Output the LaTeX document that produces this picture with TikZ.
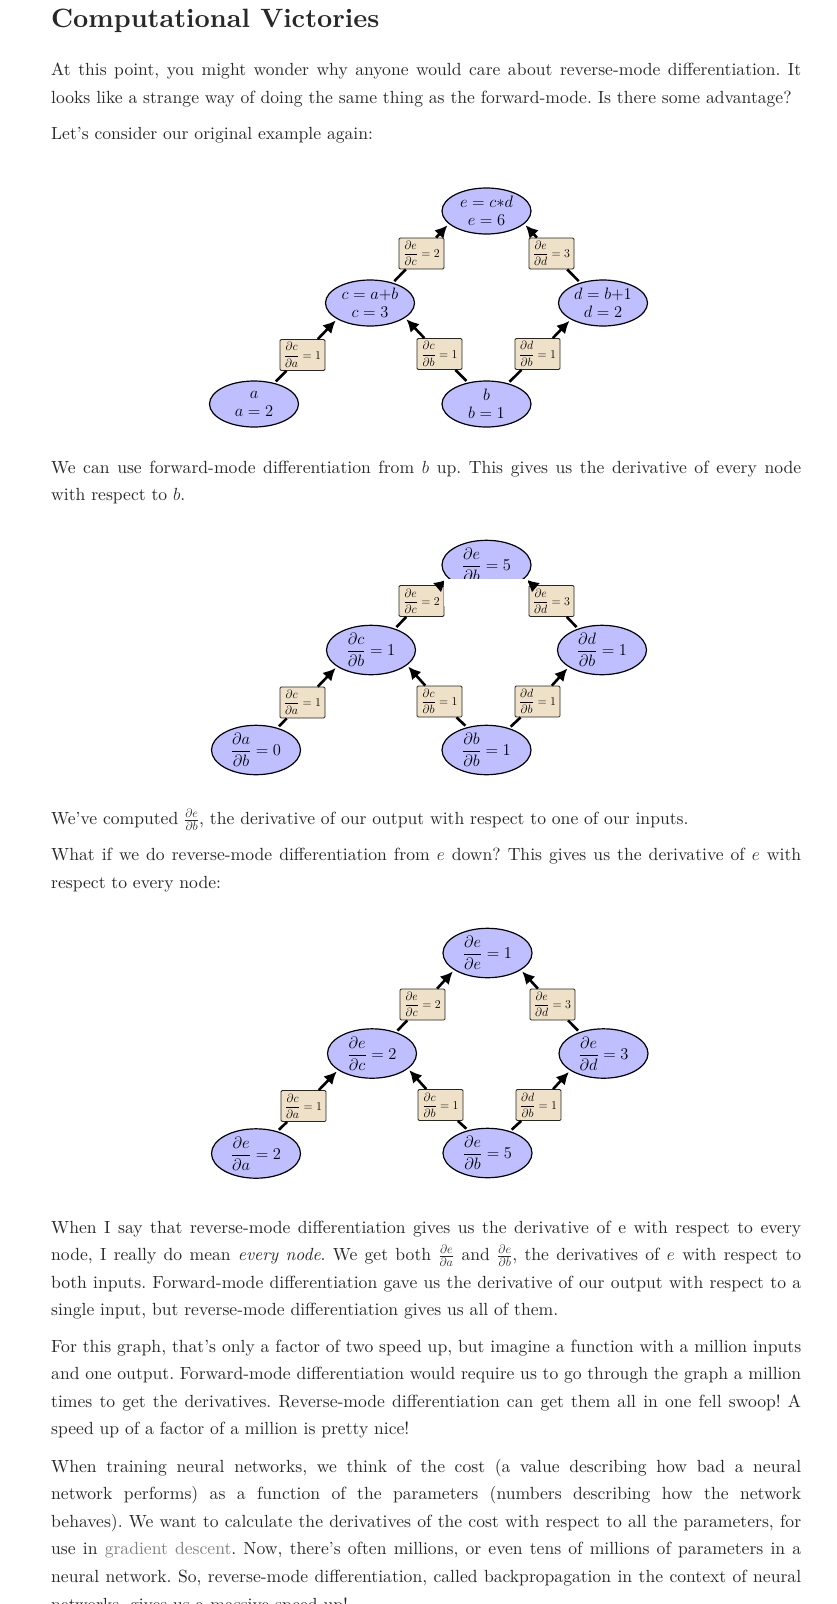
\documentclass[tikz,border=0pt]{standalone}
\usepackage{fix-cm}
\usepackage{amsmath}
\usepackage{fontspec}
\setmainfont{lmroman10}[Extension=.otf, UprightFont=*-regular, BoldFont=*-bold,
  ItalicFont=*-italic, BoldItalicFont=*-bolditalic]
\usetikzlibrary{shapes.geometric,arrows.meta}

\definecolor{varfill}{RGB}{191,191,255}
\definecolor{gradfill}{RGB}{239,224,200}
\definecolor{bodytext}{RGB}{40,40,40}
\definecolor{linkgray}{RGB}{128,128,128}

\newlength{\textw}\setlength{\textw}{750pt}
\newcommand{\jline}[1]{\leavevmode\hbox to \textw{\spaceskip=0.333em plus 1fil minus 0.1em\xspaceskip=0.333em plus 1fil minus 0.1em\relax #1}}
\newcommand{\pd}[2]{\dfrac{\partial #1}{\partial #2}}
\newcommand{\tpd}[2]{\frac{\partial #1}{\partial #2}}

\tikzset{
  var/.style={ellipse, draw=black, line width=1.2pt, fill=varfill, minimum width=89pt, minimum height=46pt,
    inner sep=0.5pt, outer sep=2.5pt, align=center, font=\fontsize{16.5}{18}\selectfont},
  grad/.style={rectangle, draw=black!85, line width=0.8pt, fill=gradfill, rounded corners=1.2pt,
    minimum width=45pt, minimum height=31pt, inner sep=1pt, font=\fontsize{12}{14}\selectfont},
  wire/.style={line width=2.6pt},
  flow/.style={wire, -{Latex[length=12.5pt,width=12.5pt]}},
  para/.style={anchor=base west, inner sep=0pt, text width=\textw, align=flush left, text=bodytext,
    font=\fontsize{17.6}{27.6}\selectfont\frenchspacing},
}

\begin{document}
\begin{tikzpicture}[x=1pt,y=-1pt]
\useasboundingbox (0,0) rectangle (836,1604);
\clip (0,0) rectangle (836,1604);
\fill[white] (0,0) rectangle (836,1604);

% text
\node[anchor=base west, inner sep=0pt, text=bodytext, font=\fontsize{26.5}{30}\selectfont\bfseries] (title) at (51,27.6) {Computational Victories};
\node[para] (p1) at (51,75.6) {\jline{At this point, you might wonder why anyone would care about reverse-mode differentiation. It}\\
looks like a strange way of doing the same thing as the forward-mode. Is there some advantage?};
\node[para] (p2) at (51,139) {Let’s consider our original example again:};
\node[para] (p3) at (51,473.3) {\jline{We can use forward-mode differentiation from $b$ up. This gives us the derivative of every node}\\
with respect to $b$.};
\node[para] (p4) at (51,824.6) {We’ve computed $\tpd{e}{b}$, the derivative of our output with respect to one of our inputs.};
\node[para] (p5) at (51,860.4) {\jline{What if we do reverse-mode differentiation from $e$ down? This gives us the derivative of $e$ with}\\
respect to every node:};
\node[para] (p6) at (51,1233) {\jline{When I say that reverse-mode differentiation gives us the derivative of e with respect to every}\\
\jline{node, I really do mean \emph{every node}. We get both $\tpd{e}{a}$ and $\tpd{e}{b}$, the derivatives of $e$ with respect to}\\
\jline{both inputs. Forward-mode differentiation gave us the derivative of our output with respect to a}\\
single input, but reverse-mode differentiation gives us all of them.};
\node[para] (p7) at (51,1352) {\jline{For this graph, that’s only a factor of two speed up, but imagine a function with a million inputs}\\
\jline{and one output. Forward-mode differentiation would require us to go through the graph a million}\\
\jline{times to get the derivatives. Reverse-mode differentiation can get them all in one fell swoop! A}\\
speed up of a factor of a million is pretty nice!};
\node[para] (p8) at (51,1472) {\jline{When training neural networks, we think of the cost (a value describing how bad a neural}\\
\jline{network performs) as a function of the parameters (numbers describing how the network}\\
\jline{behaves). We want to calculate the derivatives of the cost with respect to all the parameters, for}\\
\jline{use in \textcolor{linkgray}{gradient descent}. Now, there’s often millions, or even tens of millions of parameters in a}\\
\jline{neural network. So, reverse-mode differentiation, called backpropagation in the context of neural}\\
networks, gives us a massive speed up!};

% derivative boxes, same in all three graphs
\foreach \i/\dx/\dy in {1/0/0, 2/0/347.5, 3/1/751} {
  \node[grad] (ca\i) at (302.5+\dx,355+\dy) {$\pd{c}{a} = 1$};
  \node[grad] (cb\i) at (439.5+\dx,354+\dy) {$\pd{c}{b} = 1$};
  \node[grad] (db\i) at (537.5+\dx,354+\dy) {$\pd{d}{b} = 1$};
  \node[grad] (ec\i) at (421.5+\dx,253.5+\dy) {$\pd{e}{c} = 2$};
  \node[grad] (ed\i) at (551.5+\dx,253.5+\dy) {$\pd{e}{d} = 3$};
}

% graph 1: values
\node[var] (e1) at (486.5,211) {$e = c{*}d$\\$e = 6$};
\node[var] (c1) at (370,303) {$c = a{+}b$\\$c = 3$};
\node[var] (d1) at (603,303) {$d = b{+}1$\\$d = 2$};
\node[var] (a1) at (254,404) {$a$\\$a = 2$};
\node[var] (b1) at (486.5,404) {$b$\\$b = 1$};

% graph 2: forward from b
\node[var] (e2) at (486.5,565) {$\pd{e}{b} = 5$};
\node[var] (c2) at (371,650) {$\pd{c}{b} = 1$};
\node[var] (d2) at (602,650) {$\pd{d}{b} = 1$};
\node[var] (a2) at (256,750) {$\pd{a}{b} = 0$};
\node[var] (b2) at (486.5,750) {$\pd{b}{b} = 1$};

% graph 3: reverse from e
\node[var] (e3) at (487.5,953) {$\pd{e}{e} = 1$};
\node[var] (c3) at (372,1053.5) {$\pd{e}{c} = 2$};
\node[var] (d3) at (603.5,1053.5) {$\pd{e}{d} = 3$};
\node[var] (a3) at (256,1153.5) {$\pd{e}{a} = 2$};
\node[var] (b3) at (487.5,1153) {$\pd{e}{b} = 5$};

% edges
\foreach \i/\el/\er in {1/200/340, 2/200/340, 3/208/332}
  \foreach \s/\sa/\m/\t/\ta in {a/46/ca/c/207, b/131/cb/c/336, b/44/db/d/208, c/42/ec/e/\el, d/138/ed/e/\er} {
    \draw[wire] (\s\i.\sa) -- (\m\i);
    \draw[flow] (\m\i) -- (\t\i.\ta);
  }

\fill[white] (444,579) rectangle (528,606);
\end{tikzpicture}
\end{document}
